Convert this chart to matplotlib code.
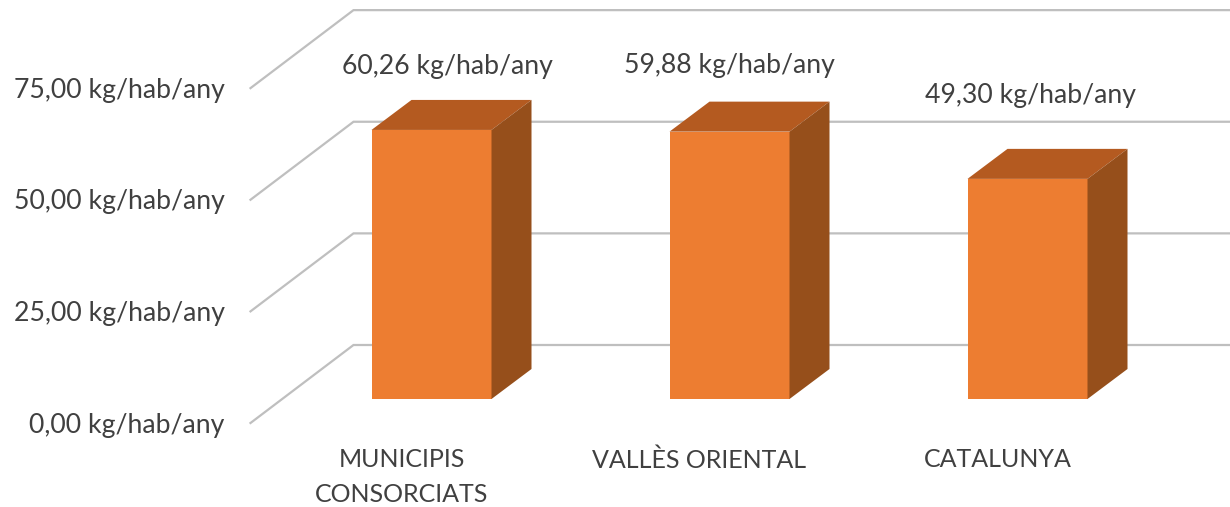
import matplotlib
matplotlib.use("Agg")
import matplotlib.pyplot as plt
from matplotlib.patches import Polygon

categories = ["MUNICIPIS\nCONSORCIATS", "VALLÈS ORIENTAL", "CATALUNYA"]
values = [60.26, 59.88, 49.30]
bar_labels = ["60,26 kg/hab/any", "59,88 kg/hab/any", "49,30 kg/hab/any"]
ticks = [0, 25, 50, 75]
tick_labels = ["0,00 kg/hab/any", "25,00 kg/hab/any", "50,00 kg/hab/any", "75,00 kg/hab/any"]

# label placement by hand, in pixels from the bar centre / bar top
label_dx = [16, 0, 3]
label_dy = [63, 66, 83]

W, H = 1230, 507
px_x = 298.0    # pixels per category
px_y = 4.465    # pixels per kg/hab/any

plt.rcParams['font.family'] = ['Lato', 'DejaVu Sans']
fig = plt.figure(figsize=(W / 100, H / 100), dpi=100)
ax = fig.add_axes([0, 0, 1, 1])
ax.set_xlim(-431.5 / px_x, (W - 431.5) / px_x)
ax.set_ylim(-(H - 399) / px_y, 399 / px_y)
ax.axis('off')

text_color = '#404040'
grid_color = '#BFBFBF'
fs = 19.2

# the walls of the fake 3d box
floor_front = -24 / px_y
floor_back = 54 / px_y
left_front = -181 / px_x
left_back = -78 / px_x
for t, lab in zip(ticks, tick_labels):
  ax.plot([left_front, left_back, ax.get_xlim()[1]],
          [t + floor_front, t + floor_back, t + floor_back],
          color=grid_color, lw=1.6, solid_joinstyle='miter', zorder=1)
  ax.text(left_front - 26 / px_x, t + floor_front - 2 / px_y, lab, ha='right', va='center',
          fontsize=fs, color=text_color)

# bars
bar_w = 120 / px_x
dx = 40 / px_x
dy = 30 / px_y
for i, v in enumerate(values):
  x0 = i - bar_w / 2
  x1 = i + bar_w / 2
  ax.add_patch(Polygon([(x0, 0), (x1, 0), (x1, v), (x0, v)], closed=True,
                       fc='#ED7D31', ec='none', zorder=3))
  ax.add_patch(Polygon([(x0, v), (x1, v), (x1 + dx, v + dy), (x0 + dx, v + dy)], closed=True,
                       fc='#B45A20', ec='none', zorder=3))
  ax.add_patch(Polygon([(x1, 0), (x1 + dx, dy), (x1 + dx, v + dy), (x1, v)], closed=True,
                       fc='#964F1B', ec='none', zorder=3))

  ax.text(i + label_dx[i] / px_x, v + label_dy[i] / px_y, bar_labels[i], ha='center', va='center',
          fontsize=fs, color=text_color, zorder=4)
  ax.text(i - 30 / px_x, -49 / px_y, categories[i], ha='center', va='top',
          fontsize=18, color=text_color, linespacing=1.62)

fig.savefig('out.png', dpi=100)
